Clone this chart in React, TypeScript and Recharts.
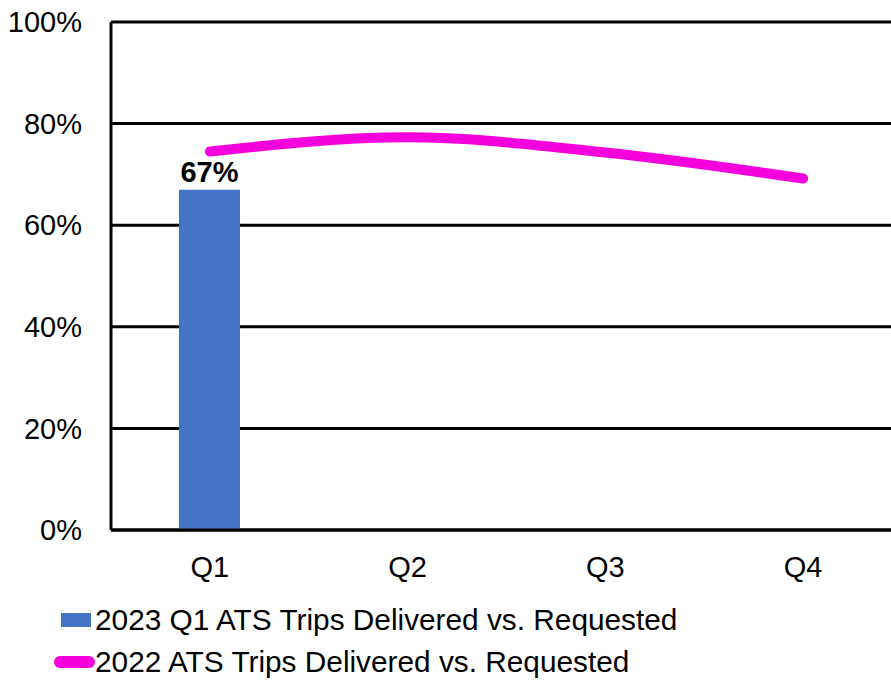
import React from "react";
import {
  ComposedChart,
  Bar,
  Line,
  XAxis,
  YAxis,
  CartesianGrid,
  LabelList,
} from "recharts";

const quarters = ["Q1", "Q2", "Q3", "Q4"];
const trips2023 = [67, null, null, null];
const trips2022 = [74.5, 77.3, 74.3, 69.2];
const yTicks = [0, 20, 40, 60, 80, 100];

const NAME_2023 = "2023 Q1 ATS Trips Delivered vs. Requested";
const NAME_2022 = "2022 ATS Trips Delivered vs. Requested";

const BLUE = "#4472C4";
const MAGENTA = "#F500DC";
const FONT = "'Liberation Sans', Arial, sans-serif";
const FS = 29;

const data = quarters.map((q, i) => ({
  name: q,
  y2023: trips2023[i],
  y2022: trips2022[i],
}));

export default function App() {
  return (
    <div
      style={{
        position: "absolute",
        left: 0,
        top: 0,
        width: 891,
        height: 682,
        overflow: "hidden",
        background: "#fff",
        fontFamily: FONT,
      }}
    >
      <ComposedChart
        width={910}
        height={682}
        data={data}
        margin={{ top: 22, right: 8, bottom: 92, left: 0 }}
      >
        <CartesianGrid
          horizontal={true}
          vertical={false}
          stroke="#000"
          strokeWidth={3}
        />
        <XAxis
          dataKey="name"
          axisLine={{ stroke: "#000", strokeWidth: 3 }}
          tickLine={false}
          tickSize={24}
          tickMargin={2}
          height={60}
          tick={{ fill: "#000", fontSize: FS, fontFamily: FONT }}
        />
        <YAxis
          domain={[0, 100]}
          ticks={yTicks}
          tickFormatter={(v) => `${v}%`}
          axisLine={{ stroke: "#000", strokeWidth: 3 }}
          tickLine={false}
          tickSize={27}
          width={111}
          interval={0}
          tick={{ fill: "#000", fontSize: FS, fontFamily: FONT }}
        />
        <Bar
          dataKey="y2023"
          name={NAME_2023}
          fill={BLUE}
          barSize={61}
          isAnimationActive={false}
        >
          <LabelList
            dataKey="y2023"
            position="top"
            offset={8}
            formatter={(v) => (v == null ? "" : `${v}%`)}
            style={{ fill: "#000", fontSize: FS, fontWeight: "bold", fontFamily: FONT }}
          />
        </Bar>
        <Line
          type="monotone"
          dataKey="y2022"
          name={NAME_2022}
          stroke={MAGENTA}
          strokeWidth={10}
          strokeLinecap="round"
          dot={false}
          activeDot={false}
          isAnimationActive={false}
        />
      </ComposedChart>
      <div style={{ position: "absolute", left: 0, top: 600, fontSize: 29.8, lineHeight: 1, color: "#000" }}>
        <div style={{ display: "flex", alignItems: "center", height: 40, whiteSpace: "nowrap" }}>
          <span style={{ display: "inline-block", marginLeft: 61, width: 30, height: 14, background: BLUE }} />
          <span style={{ marginLeft: 4 }}>{NAME_2023}</span>
        </div>
        <div style={{ display: "flex", alignItems: "center", height: 44, whiteSpace: "nowrap" }}>
          <span
            style={{
              display: "inline-block",
              marginLeft: 54,
              width: 41,
              height: 12,
              borderRadius: 6,
              background: MAGENTA,
            }}
          />
          <span>{NAME_2022}</span>
        </div>
      </div>
    </div>
  );
}
